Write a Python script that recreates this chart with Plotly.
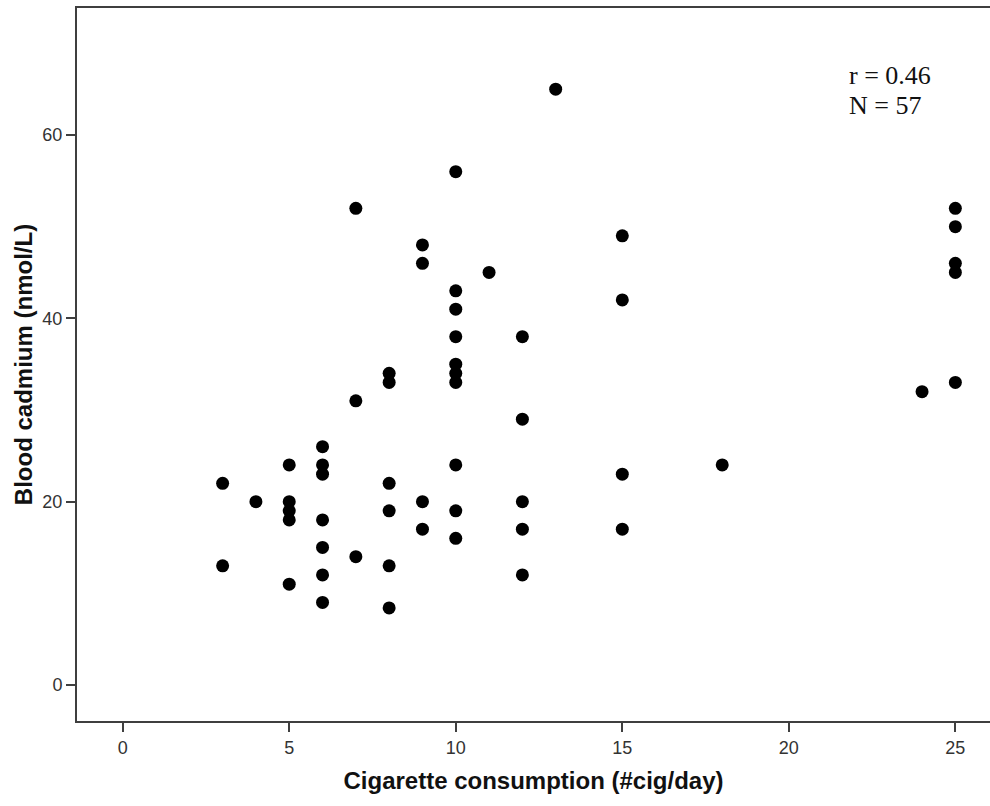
import plotly.graph_objects as go

# Cigarettes per day and blood cadmium (nmol/L) for each smoker
cigs_per_day = [
    3, 3,
    4,
    5, 5, 5, 5, 5,
    6, 6, 6, 6, 6, 6, 6,
    7, 7, 7,
    8, 8, 8, 8, 8, 8,
    9, 9, 9, 9,
    10, 10, 10, 10, 10, 10, 10, 10, 10, 10,
    11,
    12, 12, 12, 12, 12,
    13,
    15, 15, 15, 15,
    18,
    24,
    25, 25, 25, 25, 25,
]
blood_cadmium = [
    22, 13,
    20,
    24, 20, 19, 18, 11,
    26, 24, 23, 18, 15, 12, 9,
    52, 31, 14,
    34, 33, 22, 19, 13, 8.4,
    48, 46, 20, 17,
    56, 43, 41, 38, 35, 34, 33, 24, 19, 16,
    45,
    38, 29, 20, 17, 12,
    65,
    49, 42, 23, 17,
    24,
    32,
    52, 50, 46, 45, 33,
]

x_ticks = [0, 5, 10, 15, 20, 25]
y_ticks = [0, 20, 40, 60]
stats_lines = ["r = 0.46", "N = 57"]

axis_color = "#3f3f3f"
tick_font = dict(family="Liberation Sans, Arial, sans-serif", size=18, color="#333333")
title_font = dict(family="Liberation Sans, Arial, sans-serif", size=24, color="#111111")
stats_font = dict(family="Liberation Serif, Times New Roman, serif", size=26, color="#111111")

fig = go.Figure()
fig.add_trace(go.Scatter(
    x=cigs_per_day,
    y=blood_cadmium,
    mode="markers",
    marker=dict(size=13, color="black", line=dict(width=0)),
    showlegend=False,
    hoverinfo="x+y",
))

fig.update_xaxes(
    range=[-1.372, 26.04],
    tickvals=x_ticks,
    ticks="outside", ticklen=9, tickwidth=2, tickcolor=axis_color,
    showline=True, linewidth=2, linecolor=axis_color, mirror=True,
    showgrid=False, zeroline=False,
    tickfont=tick_font,
    title=dict(text="<b>Cigarette consumption (#cig/day)</b>", font=title_font, standoff=16),
)
fig.update_yaxes(
    range=[-3.93, 73.85],
    tickvals=y_ticks,
    ticks="outside", ticklen=9, tickwidth=2, tickcolor=axis_color,
    showline=True, linewidth=2, linecolor=axis_color, mirror=False,
    showgrid=False, zeroline=False,
    tickfont=tick_font,
    title=dict(text="<b>Blood cadmium (nmol/L)</b>", font=title_font, standoff=3),
)

# Correlation summary in the upper right corner, one line per annotation
for i, line in enumerate(stats_lines):
    fig.add_annotation(
        xref="paper", yref="paper", x=0.843, y=0.905 - i * 0.042,
        xanchor="left", yanchor="middle", align="left",
        text=line, showarrow=False, font=stats_font,
    )

fig.update_layout(
    width=990, height=806,
    margin=dict(l=77, r=0, t=8, b=85),
    paper_bgcolor="white", plot_bgcolor="white",
)

fig.write_html("out.html")
